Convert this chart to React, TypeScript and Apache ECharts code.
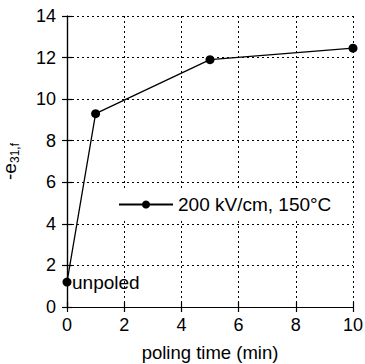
import React, { useEffect, useRef } from "react";
import * as echarts from "echarts";

const xValues = [0, 1, 5, 10];
const yValues = [1.2, 9.3, 11.9, 12.45];
const seriesName = "200 kV/cm, 150°C";
const xTitle = "poling time (min)";
const annotation = "unpoled";

const FONT = "Liberation Sans, Arial, Helvetica, sans-serif";

export default function App() {
  const ref = useRef<HTMLDivElement>(null);
  useEffect(() => {
    const chart = echarts.init(ref.current!, null, { renderer: "svg" });
    const axisCommon = {
      type: "value" as const,
      axisLine: { show: true, lineStyle: { color: "#000", width: 1.2 } },
      axisTick: { show: true, inside: true, length: 5, lineStyle: { color: "#000", width: 1.2 } },
    };
    chart.setOption({
      animation: false,
      backgroundColor: "#fff",
      grid: { left: 67, top: 16, width: 286, height: 291, containLabel: false, outerBoundsMode: "none" },
      textStyle: { fontFamily: FONT },
      legend: {
        data: [seriesName],
        left: 112,
        top: 189,
        backgroundColor: "#fff",
        padding: [6, 8, 6, 6],
        itemWidth: 54,
        itemHeight: 10,
        itemGap: 6,
        textStyle: { fontFamily: FONT, fontSize: 19, color: "#000" },
      },
      xAxis: [
        {
          ...axisCommon,
          min: 0,
          max: 10,
          interval: 2,
          position: "bottom",
          axisLabel: { color: "#000", fontSize: 18, fontFamily: FONT, margin: 9 },
          splitLine: { show: true, lineStyle: { color: "#000", type: [2, 3], width: 1 } },
          name: xTitle,
          nameLocation: "middle",
          nameGap: 36,
          nameTextStyle: { color: "#000", fontSize: 18.5, fontFamily: FONT },
        },
        {
          ...axisCommon,
          min: 0,
          max: 10,
          interval: 2,
          position: "top",
          axisLabel: { show: false },
          splitLine: { show: false },
        },
      ],
      yAxis: [
        {
          ...axisCommon,
          min: 0,
          max: 14,
          interval: 2,
          position: "left",
          axisLabel: { color: "#000", fontSize: 18, fontFamily: FONT, margin: 11 },
          splitLine: { show: true, lineStyle: { color: "#000", type: [2, 3], width: 1 } },
          name: "-e{sub|31,f}",
          nameLocation: "middle",
          nameGap: 46,
          nameRotate: 90,
          nameTextStyle: {
            color: "#000",
            fontSize: 19,
            fontFamily: FONT,
            rich: { sub: { fontSize: 12, fontFamily: FONT, color: "#000", padding: [12, 0, 0, 0] } },
          },
        },
        {
          ...axisCommon,
          min: 0,
          max: 14,
          interval: 2,
          position: "right",
          axisLabel: { show: false },
          splitLine: { show: false },
        },
      ],
      series: [
        {
          name: seriesName,
          type: "line",
          data: xValues.map((x, i) => [x, yValues[i]]),
          symbol: "circle",
          symbolSize: 9,
          itemStyle: { color: "#000" },
          lineStyle: { color: "#000", width: 1.3 },
          label: { show: false },
          markPoint: {
            symbol: "circle",
            symbolSize: 0,
            data: [
              {
                coord: [xValues[0], yValues[0]],
                label: {
                  show: true,
                  formatter: annotation,
                  position: "right",
                  distance: 5,
                  color: "#000",
                  fontSize: 19,
                  fontFamily: FONT,
                },
              },
            ],
          },
        },
      ],
    });
    return () => chart.dispose();
  }, []);
  return <div ref={ref} style={{ width: 365, height: 364, position: "absolute", left: 0, top: 0 }} />;
}
